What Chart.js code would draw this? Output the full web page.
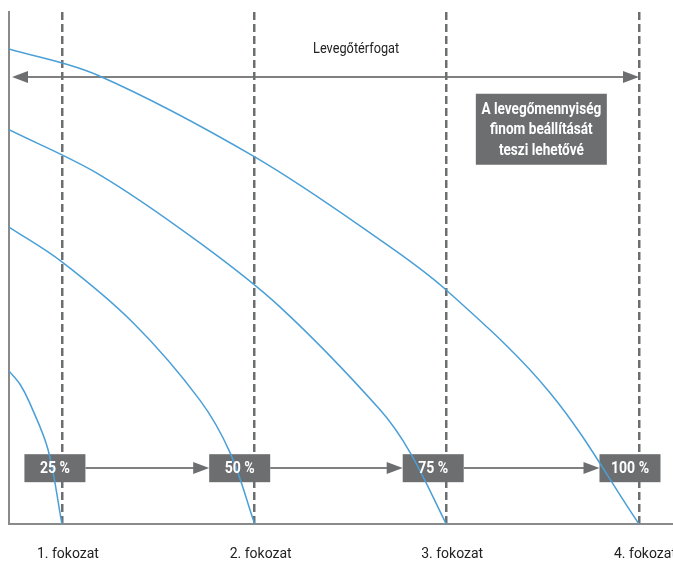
<!DOCTYPE html>
<html>
<head>
<meta charset="utf-8">
<script src="https://cdn.jsdelivr.net/npm/chart.js@4"></script>
<style>
  body { margin: 0; background: #fff; }
</style>
</head>
<body>
<canvas id="chart1" width="673" height="561"></canvas>
<script>
// stage positions on the air volume axis (0..100 = full range)
const stageX = [8.4, 39, 69.4, 100];
const stageLabels = ["1. fokozat", "2. fokozat", "3. fokozat", "4. fokozat"];
const percentLabels = ["25 %", "50 %", "75 %", "100 %"];

// fan curves
const curve1X = [0, 14.0, 39.0, 58.9, 69.4, 85.9, 100];
const curve1Y = [92.8, 87.7, 71.7, 55.5, 45.7, 25.6, 0];
const curve2X = [0, 14.4, 30.3, 43.0, 58.9, 63.7, 69.4];
const curve2Y = [77.0, 68.2, 54.9, 42.4, 22.3, 13.9, 0];
const curve3X = [0, 8.4, 19.7, 30.3, 35.1, 39.0];
const curve3Y = [58.0, 51.2, 39.3, 24.2, 13.9, 0];
const curve4X = [0, 1.75, 3.3, 6.2, 8.4];
const curve4Y = [29.9, 27.3, 23.6, 14.5, 0];

const axisTitle = "Levegőtérfogat";
const noteLines = ["A levegőmennyiség", "finom beállítását", "teszi lehetővé"];

const blue = "#4a9fd6";
const grey = "#6d6e70";
const fontFam = "Roboto, 'Liberation Sans', sans-serif";

function pts(xs, ys) {
    return xs.map((x, i) => ({ x: x, y: ys[i] }));
}

function curve(xs, ys) {
    return {
        data: pts(xs, ys),
        showLine: true,
        borderColor: blue,
        borderWidth: 1.5,
        pointRadius: 0,
        tension: 0.35,
        fill: false
    };
}

function arrowHead(ctx, x, y, dir) {
    ctx.beginPath();
    ctx.moveTo(x, y);
    ctx.lineTo(x - dir * 16, y - 6);
    ctx.lineTo(x - dir * 16, y + 6);
    ctx.closePath();
    ctx.fill();
}

// condensed look: squeeze the text horizontally
function narrowText(ctx, text, x, y, sx) {
    ctx.save();
    ctx.translate(x, y);
    ctx.scale(sx, 1);
    ctx.fillText(text, 0, 0);
    ctx.restore();
}

const boxShift = [-7, -15, -13, -9];

const extras = {
    id: "extras",
    beforeDraw(chart) {
        const ctx = chart.ctx;
        const xs = chart.scales.x, ys = chart.scales.y;
        ctx.save();

        // top double arrow
        const ay = Math.round(ys.getPixelForValue(87.3));
        ctx.strokeStyle = "#808080";
        ctx.fillStyle = grey;
        ctx.lineWidth = 2;
        ctx.beginPath();
        ctx.moveTo(20, ay);
        ctx.lineTo(xs.getPixelForValue(100) - 8, ay);
        ctx.stroke();
        arrowHead(ctx, 12, ay, -1);
        arrowHead(ctx, xs.getPixelForValue(100), ay, 1);

        // stage boxes and arrows between them
        const by = ys.getPixelForValue(10.9);
        const bw = 61, bh = 28;
        const lefts = stageX.map((v, i) => xs.getPixelForValue(v) + boxShift[i] - bw / 2);
        ctx.fillStyle = grey;
        lefts.forEach(l => ctx.fillRect(l, by - bh / 2, bw, bh));
        for (let i = 0; i < lefts.length - 1; i++) {
            ctx.beginPath();
            ctx.moveTo(lefts[i] + bw, Math.round(by));
            ctx.lineTo(lefts[i + 1] - 8, Math.round(by));
            ctx.stroke();
            arrowHead(ctx, lefts[i + 1], Math.round(by), 1);
        }

        // note box
        const nx = xs.getPixelForValue(84.5), ny = ys.getPixelForValue(77.1);
        ctx.fillRect(nx - 65.5, ny - 35.5, 131, 71);
        ctx.restore();
    },
    afterDraw(chart) {
        const ctx = chart.ctx;
        const xs = chart.scales.x, ys = chart.scales.y;
        ctx.save();
        ctx.textAlign = "center";
        ctx.textBaseline = "middle";

        ctx.fillStyle = "#222";
        ctx.font = "15px " + fontFam;
        narrowText(ctx, axisTitle, xs.getPixelForValue(55.1), ys.getPixelForValue(92.8), 0.85);

        ctx.fillStyle = "#fff";
        ctx.font = "bold 16px " + fontFam;
        const by = ys.getPixelForValue(10.9);
        stageX.forEach((v, i) => {
            narrowText(ctx, percentLabels[i], xs.getPixelForValue(v) + boxShift[i], by + 1, 0.88);
        });

        ctx.font = "bold 16px " + fontFam;
        const nx = xs.getPixelForValue(84.5), ny = ys.getPixelForValue(77.1);
        noteLines.forEach((t, i) => narrowText(ctx, t, nx, ny + 1 + (i - 1) * 20.5, 0.85));
        ctx.restore();
    }
};

const chart = new Chart(document.getElementById("chart1"), {
    type: "scatter",
    data: {
        datasets: [
            curve(curve1X, curve1Y),
            curve(curve2X, curve2Y),
            curve(curve3X, curve3Y),
            curve(curve4X, curve4Y)
        ]
    },
    options: {
        responsive: false,
        animation: false,
        layout: { padding: { top: 12, left: 9, right: 0, bottom: 0 } },
        plugins: { legend: { display: false }, tooltip: { enabled: false } },
        scales: {
            x: {
                type: "linear",
                min: 0,
                max: 105.4,
                afterBuildTicks: axis => { axis.ticks = stageX.map(v => ({ value: v })); },
                afterFit: axis => {
                    axis.height = 37;
                    axis.paddingLeft = 0;
                    axis.paddingRight = 0;
                },
                ticks: {
                    callback: (v, i) => stageLabels[i],
                    color: "#222",
                    padding: 22,
                    labelOffset: 6,
                    maxRotation: 0,
                    autoSkip: false,
                    font: { family: fontFam, size: 14 }
                },
                grid: { color: grey, lineWidth: 2.5, drawTicks: false },
                border: { display: true, color: "#8a8a8a", width: 2, dash: [8, 4] }
            },
            y: {
                min: 0,
                max: 100,
                ticks: { display: false },
                grid: { display: false, drawTicks: false },
                border: { display: true, color: "#8a8a8a", width: 2 }
            }
        }
    },
    plugins: [extras]
});
</script>
</body>
</html>
